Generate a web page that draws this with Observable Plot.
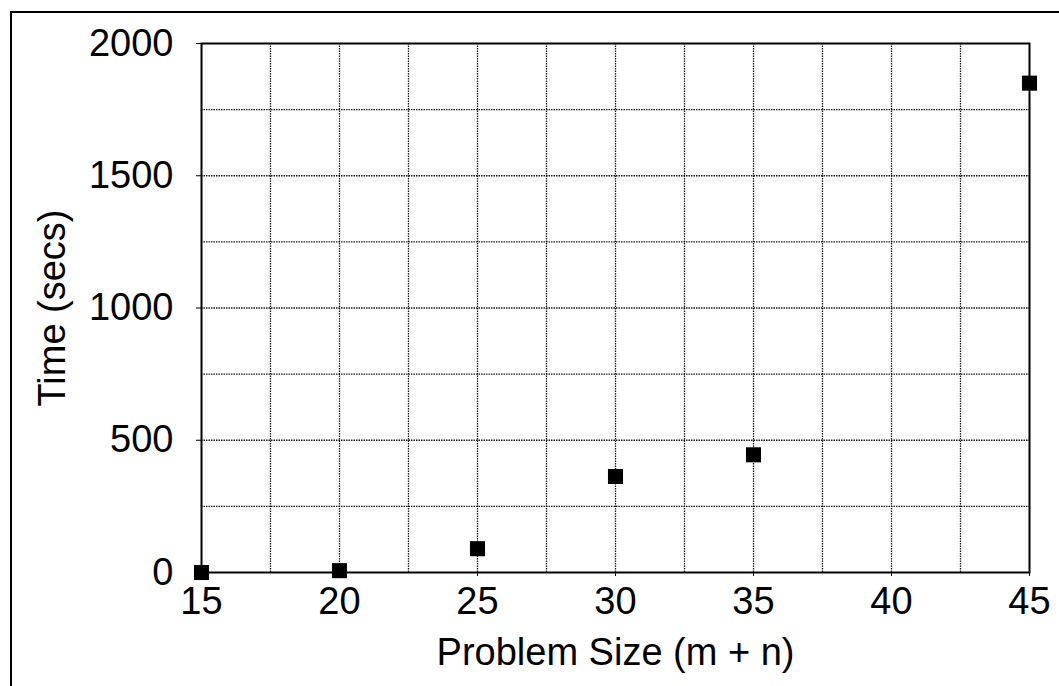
<!DOCTYPE html>
<html>
<head>
<meta charset="utf-8">
<script src="https://cdn.jsdelivr.net/npm/d3@7"></script>
<script src="https://cdn.jsdelivr.net/npm/@observablehq/plot@0.6"></script>
<style>
  html, body { margin: 0; padding: 0; background: #fff; }
  #wrap { position: relative; width: 1059px; height: 686px; overflow: hidden; }
  #outer { position: absolute; left: 10px; top: 11px; width: 1100px; height: 760px;
           border-left: 2px solid #000; border-top: 2px solid #000; pointer-events: none; }
  #chart { position: absolute; left: 0; top: 0; }
</style>
</head>
<body>
<div id="wrap"><div id="chart"></div><div id="outer"></div></div>
<script>
const problemSize = [15, 20, 25, 30, 35, 45];
const timeSecs = [0, 7, 90, 363, 445, 1850];
const xTicks = [15, 20, 25, 30, 35, 40, 45];
const yTicks = [0, 500, 1000, 1500, 2000];
const xGrid = [17.5, 20, 22.5, 25, 27.5, 30, 32.5, 35, 37.5, 40, 42.5];
const yGrid = [250, 500, 750, 1000, 1250, 1500, 1750];
const xLabel = "Problem Size (m + n)";
const yLabel = "Time (secs)";

const data = problemSize.map((x, i) => ({x, y: timeSecs[i]}));

const chart = Plot.plot({
  width: 1059,
  height: 686,
  marginLeft: 201,
  marginRight: 30,
  marginTop: 43,
  marginBottom: 114,
  style: {fontSize: "38px", fontFamily: "'Liberation Sans', Arial, sans-serif", color: "#000", background: "transparent"},
  x: {domain: [15, 45], ticks: xTicks, tickFormat: d3.format("d"), tickSize: 4, tickPadding: 11,
      label: xLabel, labelArrow: "none", labelAnchor: "center", labelOffset: 92},
  y: {domain: [0, 2000], ticks: yTicks, tickFormat: d3.format("d"), tickSize: 5, tickPadding: 23,
      label: yLabel, labelArrow: "none", labelAnchor: "center", labelOffset: 163},
  marks: [
    Plot.gridX(xGrid, {stroke: "#000", strokeOpacity: 0.9, strokeWidth: 1.3, strokeDasharray: "1.5,1"}),
    Plot.gridY(yGrid, {stroke: "#000", strokeOpacity: 0.9, strokeWidth: 1.3, strokeDasharray: "1.5,1"}),
    Plot.frame({stroke: "#000", strokeWidth: 2}),
    Plot.dot(data, {x: "x", y: "y", symbol: "square", r: 8.5, fill: "#000", stroke: "none"})
  ]
});
document.getElementById("chart").appendChild(chart);
</script>
</body>
</html>
